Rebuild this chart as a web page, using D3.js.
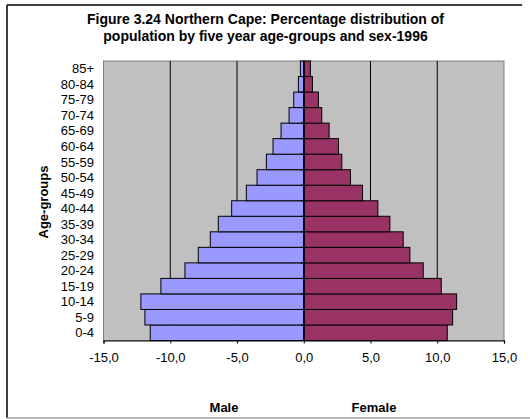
<!DOCTYPE html>
<html><head><meta charset="utf-8">
<script src="https://cdn.jsdelivr.net/npm/d3@7"></script>
<style>body{margin:0;background:#fff}svg{display:block;font-family:Arial,"Liberation Sans",sans-serif}</style>
</head><body>
<svg id="c" width="530" height="419"></svg>
<script>
const ageGroups = ["0-4","5-9","10-14","15-19","20-24","25-29","30-34","35-39","40-44","45-49","50-54","55-59","60-64","65-69","70-74","75-79","80-84","85+"];
const male = [-11.5,-11.9,-12.2,-10.7,-8.9,-7.9,-7.0,-6.4,-5.4,-4.3,-3.5,-2.8,-2.3,-1.7,-1.1,-0.75,-0.4,-0.25];
const female = [10.75,11.15,11.45,10.3,8.95,7.95,7.45,6.45,5.55,4.4,3.5,2.85,2.6,1.9,1.35,1.1,0.65,0.5];
const xTicks = [-15,-10,-5,0,5,10,15];

const svg = d3.select("#c");
const L = 103.5, R = 504, T = 61, B = 340.5;
const x = d3.scaleLinear().domain([-15,15]).range([L,R]);
const y = d3.scaleBand().domain(ageGroups.slice().reverse()).range([T,B]).padding(0);

// outer frame
svg.append("line").attr("x1",7).attr("x2",7).attr("y1",5).attr("y2",418).attr("stroke","#000").attr("stroke-width",1.5);
svg.append("line").attr("x1",7).attr("x2",522).attr("y1",5).attr("y2",5).attr("stroke","#000").attr("stroke-width",1.5);
svg.append("line").attr("x1",7).attr("x2",530).attr("y1",418).attr("y2",418).attr("stroke","#a0a0a0").attr("stroke-width",1.5);

// title
const title = svg.append("text").attr("text-anchor","middle").attr("font-weight","bold").attr("font-size",14).attr("fill","#000");
title.append("tspan").attr("x",265.5).attr("y",23.5).text("Figure 3.24 Northern Cape: Percentage distribution of");
title.append("tspan").attr("x",265.5).attr("y",41).text("population by five year age-groups and sex-1996");

// plot area
svg.append("rect").attr("x",L).attr("y",T).attr("width",R-L).attr("height",B-T).attr("fill","#c0c0c0").attr("stroke","#808080").attr("stroke-width",1);

// gridlines
svg.append("g").selectAll("line").data(xTicks.filter(d=>d!==0 && Math.abs(d)!==15)).join("line")
  .attr("x1",d=>x(d)).attr("x2",d=>x(d)).attr("y1",T).attr("y2",B).attr("stroke","#000").attr("stroke-width",1);

// bars
const idx = d3.range(ageGroups.length);
svg.append("g").selectAll("rect").data(idx).join("rect")
  .attr("x",i=>x(male[i])).attr("width",i=>x(0)-x(male[i]))
  .attr("y",i=>y(ageGroups[i])).attr("height",y.bandwidth())
  .attr("fill","#9999ff").attr("stroke","#000").attr("stroke-width",1);
svg.append("g").selectAll("rect").data(idx).join("rect")
  .attr("x",x(0)).attr("width",i=>x(female[i])-x(0))
  .attr("y",i=>y(ageGroups[i])).attr("height",y.bandwidth())
  .attr("fill","#993366").attr("stroke","#000").attr("stroke-width",1);

// x axis
const fmt = d => d.toFixed(1).replace(".",",");
const xAxis = svg.append("g").attr("transform",`translate(0,${B})`)
  .call(d3.axisBottom(x).tickValues(xTicks).tickFormat(fmt).tickSize(3).tickPadding(0));
xAxis.select(".domain").attr("stroke","#000").attr("stroke-width",1.2);
xAxis.selectAll("text").attr("dy",null).attr("y",21).attr("font-size",13).attr("font-family","Arial,'Liberation Sans',sans-serif").attr("fill","#000");

// y axis at zero
const yAxis = svg.append("g").attr("transform",`translate(${x(0)},0)`)
  .call(d3.axisLeft(y).tickSize(0).tickFormat(""));
yAxis.select(".domain").attr("stroke","#000").attr("stroke-width",1.2);
svg.append("g").selectAll("line").data(ageGroups.slice(0,-1)).join("line")
  .attr("x1",x(0)-3).attr("x2",x(0)).attr("y1",d=>y(d)).attr("y2",d=>y(d)).attr("stroke","#000");

// category labels at left
svg.append("g").selectAll("text").data(ageGroups).join("text")
  .attr("x",94).attr("y",d=>y(d)+y.bandwidth()/2+4.6).attr("text-anchor","end")
  .attr("font-size",13).attr("fill","#000").text(d=>d);

// axis titles
svg.append("text").attr("transform","translate(48,202) rotate(-90)").attr("text-anchor","middle")
  .attr("font-weight","bold").attr("font-size",13).text("Age-groups");
svg.append("text").attr("x",224).attr("y",411.5).attr("text-anchor","middle").attr("font-weight","bold").attr("font-size",13).text("Male");
svg.append("text").attr("x",374).attr("y",411.5).attr("text-anchor","middle").attr("font-weight","bold").attr("font-size",13).text("Female");
</script>
</body></html>
